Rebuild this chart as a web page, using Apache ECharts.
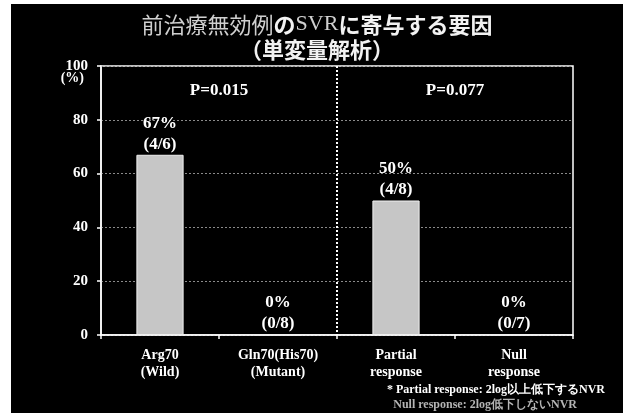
<!DOCTYPE html>
<html>
<head>
<meta charset="utf-8">
<script src="https://cdn.jsdelivr.net/npm/echarts@6/dist/echarts.min.js"></script>
<style>
  html, body { margin: 0; padding: 0; background: #ffffff; width: 633px; height: 413px; overflow: hidden; }
  #chart { position: absolute; left: 11px; top: 4px; width: 612px; height: 409px; background: #000000; }
</style>
</head>
<body>
<div id="chart"></div>
<script>
// Categories (two-line labels) and SVR rates
const categories = ['Arg70\n(Wild)', 'Gln70(His70)\n(Mutant)', 'Partial\nresponse', 'Null\nresponse'];
const svrPercent = [67, 0, 50, 0];
const svrCases = [4, 0, 4, 0];
const totalCases = [6, 8, 8, 7];
const yTicks = [0, 20, 40, 60, 80, 100];
const yUnit = '(%)';
const pValues = ['P=0.015', 'P=0.077'];
const footnotes = ['* Partial response: 2log以上低下するNVR', 'Null response: 2log低下しないNVR'];

const serif = '"Liberation Serif", "DejaVu Serif", serif';
const jp = '"Noto Sans CJK JP", sans-serif';

const chart = echarts.init(document.getElementById('chart'));

const option = {
  backgroundColor: '#000000',
  animation: false,
  title: {
    left: 'center',
    top: 3,
    text: '{g|前治療無効例}{w|の}{s|SVR}{w|に寄与する要因}\n{w|（単変量解析）}',
    textStyle: {
      rich: {
        g: { fontFamily: jp, fontSize: 22, fontWeight: 'normal', color: '#cfcfcf', lineHeight: 25 },
        w: { fontFamily: jp, fontSize: 22, fontWeight: 'bold', color: '#f2f2f2', lineHeight: 25 },
        s: { fontFamily: serif, fontSize: 22, fontWeight: 'normal', color: '#cfcfcf', lineHeight: 25 }
      }
    }
  },
  grid: {
    left: 90, top: 62, right: 50, bottom: 78,
    show: true, borderColor: '#ffffff', borderWidth: 1.5, backgroundColor: 'transparent'
  },
  xAxis: {
    type: 'category',
    data: categories,
    axisLine: { lineStyle: { color: '#ffffff', width: 1.5 } },
    axisTick: { show: true, length: 4, lineStyle: { color: '#ffffff', width: 1.5 } },
    axisLabel: {
      color: '#ffffff', fontFamily: serif, fontWeight: 'bold', fontSize: 14,
      lineHeight: 17, margin: 12
    },
    splitLine: { show: false }
  },
  yAxis: {
    type: 'value',
    min: yTicks[0],
    max: yTicks[yTicks.length - 1],
    interval: 20,
    axisLine: { show: true, lineStyle: { color: '#ffffff', width: 1.5 } },
    axisTick: { show: true, length: 4, lineStyle: { color: '#ffffff', width: 1.5 } },
    axisLabel: {
      color: '#ffffff', fontFamily: serif, fontWeight: 'bold', fontSize: 15, margin: 13
    },
    splitLine: { show: true, lineStyle: { color: '#8a8a8a', width: 1, type: [2, 2] } }
  },
  series: [{
    type: 'bar',
    data: svrPercent,
    barWidth: '40%',
    itemStyle: { color: '#c6c6c6', borderColor: '#f0f0f0', borderWidth: 1 },
    label: {
      show: true,
      position: 'top',
      distance: 0,
      color: '#ffffff', fontFamily: serif, fontWeight: 'bold', fontSize: 17, lineHeight: 21,
      formatter: (p) => p.value + '%\n(' + svrCases[p.dataIndex] + '/' + totalCases[p.dataIndex] + ')'
    },
    z: 3
  }]
};

chart.setOption(option);

// Group divider, P-value headers, unit label and footnotes placed from the axis scales
const yTop = chart.convertToPixel({ yAxisIndex: 0 }, yTicks[yTicks.length - 1]);
const yBottom = chart.convertToPixel({ yAxisIndex: 0 }, yTicks[0]);
const pY = chart.convertToPixel({ yAxisIndex: 0 }, 91);
const centres = categories.map((c, i) => chart.convertToPixel({ xAxisIndex: 0 }, i));
const dividerX = (centres[1] + centres[2]) / 2;

const pTexts = pValues.map((t, k) => ({
  type: 'text',
  x: (centres[2 * k] + centres[2 * k + 1]) / 2,
  y: pY,
  style: {
    text: t, fill: '#ffffff', font: 'bold 17px ' + serif,
    textAlign: 'center', textVerticalAlign: 'middle'
  }
}));

chart.setOption({
  graphic: pTexts.concat([
    {
      type: 'line',
      shape: { x1: dividerX, y1: yTop, x2: dividerX, y2: yBottom },
      style: { stroke: '#ffffff', lineWidth: 2, lineDash: [2, 2] },
      z: 2
    },
    {
      type: 'text',
      x: 73, y: yTop + 12,
      style: {
        text: yUnit, fill: '#ffffff', font: 'bold 14px ' + serif,
        textAlign: 'right', textVerticalAlign: 'middle'
      }
    },
    {
      type: 'text', right: 18, top: 380,
      style: { text: footnotes[0], fill: '#ffffff', font: 'bold 12px ' + serif }
    },
    {
      type: 'text', right: 46, top: 395,
      style: { text: footnotes[1], fill: '#b4b4b4', font: 'bold 12px ' + serif }
    }
  ])
});
</script>
</body>
</html>
